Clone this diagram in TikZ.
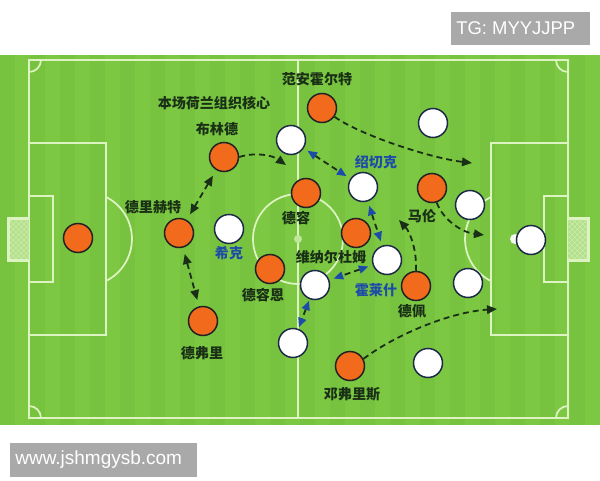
\documentclass[tikz,border=0pt]{standalone}
\usepackage{fontspec}
\setmainfont{Liberation Sans}
\newfontfamily\cjk{Noto Sans CJK SC}
\usetikzlibrary{arrows.meta,patterns}
\definecolor{pitch}{HTML}{7CC843}
\definecolor{pitchdark}{HTML}{77C33F}
\definecolor{chalk}{HTML}{DDF3C2}
\definecolor{shirtnl}{HTML}{F26B1D}
\definecolor{rimnl}{HTML}{222222}
\definecolor{rimcz}{HTML}{1C2A48}
\definecolor{inkgreen}{HTML}{1A3016}
\definecolor{inkblue}{HTML}{1D4BA8}
\definecolor{tagbox}{HTML}{A9A9A9}
\tikzset{
  chalkline/.style={draw=chalk, line width=0.035cm},
  nl/.style={circle, draw=rimnl, fill=shirtnl, line width=0.03cm, minimum size=0.58cm, inner sep=0pt},
  cz/.style={circle, draw=rimcz, fill=white, line width=0.03cm, minimum size=0.58cm, inner sep=0pt},
  lbl/.style={font=\cjk\bfseries\fontsize{8pt}{8pt}\selectfont, text=inkgreen, inner sep=0pt},
  czlbl/.style={lbl, text=inkblue},
  dashrun/.style={draw=inkgreen, line width=0.036cm, dash pattern=on 0.12cm off 0.08cm},
  run/.style={dashrun, -{Triangle[length=0.2cm,width=0.17cm]}},
  duel/.style={dashrun, {Triangle[length=0.2cm,width=0.17cm]}-{Triangle[length=0.2cm,width=0.17cm]}, shorten >=0.13cm, shorten <=0.13cm},
  czduel/.style={dashrun, {Triangle[length=0.19cm,width=0.16cm,color=inkblue]}-{Triangle[length=0.19cm,width=0.16cm,color=inkblue]}, shorten >=0.09cm, shorten <=0.09cm},
}
\begin{document}
\begin{tikzpicture}
                    \useasboundingbox (0.000000,0.000000) rectangle (12.000000,9.600000);
                    \fill [white] (0.000000,0.000000) rectangle (12.000000,9.600000);%
                    {\footnotesize
                    
                    % Drawing pitch with stripes
                    \fill [pitch] (0.000000,1.100000) rectangle (12.000000,8.500000);%
                    \foreach \i in {0,...,19}
                      \fill [pitchdark] (\i*0.6,1.100000) rectangle ++(0.300000,7.400000);%
                    
                    % Drawing touch lines and halfway line
                    \draw [chalkline] (0.580000,1.240000) rectangle (11.360000,8.400000);%
                    \draw [chalkline] (5.960000,1.240000) -- (5.960000,8.400000);%
                    \draw [chalkline] (5.960000,4.820000) circle (0.900000);%
                    \fill [chalk!70!pitch] (5.960000,4.820000) circle (0.080000);%
                    
                    % Drawing left penalty area
                    \draw [chalkline] (0.580000,6.740000) -- (2.120000,6.740000) -- (2.120000,2.900000) -- (0.580000,2.900000);%
                    \draw [chalkline] (0.580000,5.680000) -- (1.060000,5.680000) -- (1.060000,3.960000) -- (0.580000,3.960000);%
                    \draw [chalkline] (2.120000,3.980000) arc [start angle=-63.4, end angle=63.4, radius=0.940000];%
                    \fill [chalk!55!pitch] (0.180000,4.400000) rectangle (0.580000,5.240000);%
                    \fill [pattern=crosshatch, pattern color=chalk!80!pitch] (0.180000,4.400000) rectangle (0.580000,5.240000);%
                    \draw [chalk, line width=0.06cm] (0.580000,4.400000) -- (0.180000,4.400000) -- (0.180000,5.240000) -- (0.580000,5.240000);%
                    
                    % Drawing right penalty area
                    \draw [chalkline] (11.360000,6.740000) -- (9.820000,6.740000) -- (9.820000,2.900000) -- (11.360000,2.900000);%
                    \draw [chalkline] (11.360000,5.680000) -- (10.880000,5.680000) -- (10.880000,3.960000) -- (11.360000,3.960000);%
                    \draw [chalkline] (9.820000,5.660000) arc [start angle=116.6, end angle=243.4, radius=0.940000];%
                    \fill [chalk!55!pitch] (11.360000,4.400000) rectangle (11.760000,5.240000);%
                    \fill [pattern=crosshatch, pattern color=chalk!80!pitch] (11.360000,4.400000) rectangle (11.760000,5.240000);%
                    \draw [chalk, line width=0.06cm] (11.360000,4.400000) -- (11.760000,4.400000) -- (11.760000,5.240000) -- (11.360000,5.240000);%
                    
                    % Drawing corner arcs
                    \draw [chalkline] (0.580000,8.160000) arc [start angle=-90, end angle=0, radius=0.240000];%
                    \draw [chalkline] (11.120000,8.400000) arc [start angle=180, end angle=270, radius=0.240000];%
                    \draw [chalkline] (0.820000,1.240000) arc [start angle=0, end angle=90, radius=0.240000];%
                    \draw [chalkline] (11.360000,1.480000) arc [start angle=90, end angle=180, radius=0.240000];%
                    
                    % Marking ball
                    \fill [white!92!pitch] (10.300000,4.820000) circle (0.100000);%
                    
                    % Marking Dutch players
                    \node (gk) [nl] at (1.560000,4.840000) {};%
                    \node (blind) [nl] at (4.480000,6.460000) {};%
                    \node (deligt) [nl] at (3.580000,4.940000) {};%
                    \node (devrij) [nl] at (4.060000,3.180000) {};%
                    \node (aanholt) [nl] at (6.440000,7.440000) {};%
                    \node (dejong) [nl] at (6.120000,5.740000) {};%
                    \node (deroon) [nl] at (5.400000,4.220000) {};%
                    \node (wijnaldum) [nl] at (7.120000,4.940000) {};%
                    \node (malen) [nl] at (8.640000,5.840000) {};%
                    \node (depay) [nl] at (8.320000,3.880000) {};%
                    \node (dumfries) [nl] at (7.000000,2.280000) {};%
                    
                    % Marking Czech players
                    \node (czleft) [cz] at (5.820000,6.800000) {};%
                    \node (cztop) [cz] at (8.660000,7.140000) {};%
                    \node (soucek) [cz] at (7.260000,5.860000) {};%
                    \node (czwide) [cz] at (9.400000,5.500000) {};%
                    \node (czgk) [cz] at (10.620000,4.800000) {};%
                    \node (schick) [cz] at (4.580000,5.020000) {};%
                    \node (holes) [cz] at (7.740000,4.400000) {};%
                    \node (czmid) [cz] at (6.300000,3.900000) {};%
                    \node (czlow) [cz] at (5.860000,2.740000) {};%
                    \node (czback) [cz] at (9.360000,3.940000) {};%
                    \node (czbottom) [cz] at (8.560000,2.340000) {};%
                    
                    % Marking names
                    \node (aanholttxt) [lbl] at (6.340000,8.020000) {范安霍尔特};%
                    \node (coretxt) [lbl] at (4.280000,7.540000) {本场荷兰组织核心};%
                    \node (blindtxt) [lbl] at (4.340000,7.020000) {布林德};%
                    \node (deligttxt) [lbl] at (3.060000,5.460000) {德里赫特};%
                    \node (dejongtxt) [lbl] at (5.920000,5.240000) {德容};%
                    \node (schicktxt) [czlbl] at (4.580000,4.540000) {希克};%
                    \node (deroontxt) [lbl] at (5.260000,3.700000) {德容恩};%
                    \node (wijnaldumtxt) [lbl] at (6.620000,4.460000) {维纳尔杜姆};%
                    \node (soucektxt) [czlbl] at (7.520000,6.360000) {绍切克};%
                    \node (malentxt) [lbl] at (8.440000,5.280000) {马伦};%
                    \node (holestxt) [czlbl] at (7.520000,3.800000) {霍莱什};%
                    \node (depaytxt) [lbl] at (8.240000,3.380000) {德佩};%
                    \node (devrijtxt) [lbl] at (4.040000,2.540000) {德弗里};%
                    \node (dumfriestxt) [lbl] at (7.040000,1.720000) {邓弗里斯};%
                    
                    % Drawing runs
                    \coordinate (blindend) at (5.720000,6.300000);%
                    \coordinate (aanholtend) at (9.440000,6.340000);%
                    \coordinate (malenend) at (9.680000,4.900000);%
                    \coordinate (depayend) at (7.980000,5.200000);%
                    \coordinate (dumfriesend) at (9.940000,3.420000);%
                    \draw [run] (blind.east) .. controls (5.100000,6.560000) and (5.440000,6.500000) .. (blindend);%
                    \draw [run] (aanholt.-35) .. controls (7.200000,6.900000) and (8.600000,6.440000) .. (aanholtend);%
                    \draw [run] (malen.-72) .. controls (8.840000,5.240000) and (9.200000,4.960000) .. (malenend);%
                    \draw [run] (depay.north) .. controls (8.340000,4.600000) and (8.200000,4.960000) .. (depayend);%
                    \draw [run] (dumfries.28) .. controls (7.900000,2.900000) and (9.000000,3.360000) .. (dumfriesend);%
                    
                    % Drawing duels
                    \draw [duel] (blind) -- (deligt);%
                    \draw [duel] (deligt) -- (devrij);%
                    \draw [czduel] (czleft) -- (soucek);%
                    \draw [czduel] (soucek) -- (holes);%
                    \draw [czduel] (holes) -- (czmid);%
                    \draw [czduel, shorten >=0.03cm, shorten <=0.03cm] (czmid) -- (czlow);%
                    
                    % Marking tags
                    \fill [tagbox] (9.020000,8.700000) rectangle (11.800000,9.370000);%
                    \node (tg) [anchor=west, inner sep=0pt, text=white, font=\fontsize{10.5pt}{10.5pt}\selectfont] at (9.120000,9.035000) {TG: MYYJJPP};%
                    \fill [tagbox] (0.200000,0.060000) rectangle (3.940000,0.740000);%
                    \node (site) [anchor=west, inner sep=0pt, text=white, font=\fontsize{10.8pt}{10.8pt}\selectfont] at (0.300000,0.400000) {www.jshmgysb.com};%
                    }
                \end{tikzpicture}
\end{document}
